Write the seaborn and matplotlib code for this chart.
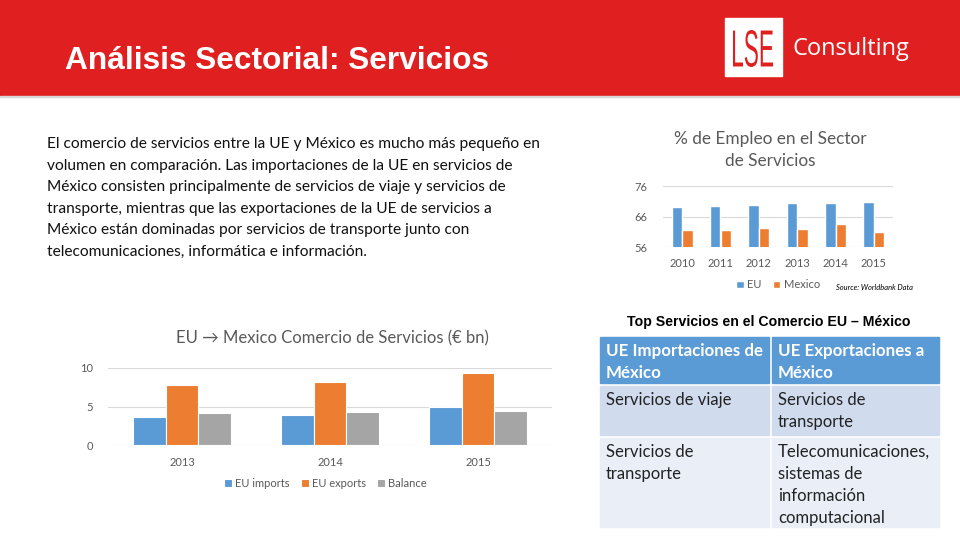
import numpy as np
import pandas as pd
import matplotlib
matplotlib.use("Agg")
import matplotlib.pyplot as plt
from matplotlib.patches import Rectangle, PathPatch
from matplotlib.textpath import TextPath
from matplotlib.font_manager import FontProperties
from matplotlib.transforms import Affine2D
import seaborn as sns

# data
emp_years = ["2010", "2011", "2012", "2013", "2014", "2015"]
emp_eu = [69.2, 69.5, 69.8, 70.5, 70.5, 70.8]
emp_mexico = [61.7, 61.7, 62.3, 61.9, 63.6, 60.9]

trade_years = ["2013", "2014", "2015"]
trade_imports = [3.7, 3.95, 5.0]
trade_exports = [7.8, 8.2, 9.4]
trade_balance = [4.1, 4.25, 4.4]

paragraph_lines = [
    "El comercio de servicios entre la UE y México es mucho más pequeño en",
    "volumen en comparación. Las importaciones de la UE en servicios de",
    "México consisten principalmente de servicios de viaje y servicios de",
    "transporte, mientras que las exportaciones de la UE de servicios a",
    "México están dominadas por servicios de transporte junto con",
    "telecomunicaciones, informática e información.",
]

table_header = [["UE Importaciones de", "México"], ["UE Exportaciones a", "México"]]
table_rows = [
    [["Servicios de viaje"], ["Servicios de", "transporte"]],
    [["Servicios de", "transporte"],
     ["Telecomunicaciones,", "sistemas de", "información", "computacional"]],
]

BLUE = "#5b9bd5"
ORANGE = "#ed7d31"
GREY = "#a5a5a5"
RED = "#e02020"
TXT = "#595959"

sns.set_theme(style="white")
plt.rcParams["font.family"] = ["Lato", "DejaVu Sans"]

fig = plt.figure(figsize=(9.6, 5.4), dpi=100)


def px_axes(x0, y0, x1, y1):
    return fig.add_axes([x0 / 960, 1 - y1 / 540, (x1 - x0) / 960, (y1 - y0) / 540])


# background layer in pixel coordinates
bg = fig.add_axes([0, 0, 1, 1])
bg.set_xlim(0, 960)
bg.set_ylim(540, 0)
bg.axis("off")

bg.add_patch(Rectangle((0, 0), 960, 96, color=RED, zorder=1))
bg.add_patch(Rectangle((0, 96), 960, 1.2, color="#d8d8d8", zorder=1))
bg.text(65, 61, "Análisis Sectorial: Servicios", color="white", fontsize=22.8,
        fontweight="bold", family="Liberation Sans", va="center", ha="left", zorder=3)

# logo
bg.add_patch(Rectangle((725, 18), 57, 58, color="white", zorder=2))
tp = TextPath((0, 0), "LSE", size=10, prop=FontProperties(family="Liberation Sans"))
ext = tp.get_extents()
sx = 40 / ext.width
sy = 37 / ext.height
tr = Affine2D().translate(-ext.x0, -ext.y0).scale(sx, -sy).translate(733, 67) + bg.transData
bg.add_patch(PathPatch(tp, color=RED, lw=0, transform=tr, zorder=3))
bg.text(793, 49, "Consulting", color="white", fontsize=17, family="Open Sans",
        ha="left", va="center", zorder=3)

# paragraph
for i, line in enumerate(paragraph_lines):
    bg.text(47, 144 + i * 21.6, line, fontsize=11.2, color="#111111",
            ha="left", va="center")

# table
bg.text(769, 322, "Top Servicios en el Comercio EU – México", fontsize=10.2,
        fontweight="bold", family="Liberation Sans", ha="center", va="center", color="black")
col_x = [(600, 769), (772, 939)]
row_y = [(337, 383), (386, 435), (438, 527)]
row_colors = ["#5b9bd5", "#d0dbee", "#e9eef7"]
cells = [table_header] + table_rows
for r, (y0, y1) in enumerate(row_y):
    for c, (x0, x1) in enumerate(col_x):
        bg.add_patch(Rectangle((x0, y0), x1 - x0, y1 - y0, color=row_colors[r], zorder=1))
        for k, line in enumerate(cells[r][c]):
            bg.text(x0 + 6, y0 + 14 + k * 22, line, fontsize=12.2 if r == 0 else 12,
                    color="white" if r == 0 else "#222222",
                    fontweight="bold" if r == 0 else "normal",
                    ha="left", va="center", zorder=3)

# employment chart
emp = pd.DataFrame({
    "year": emp_years * 2,
    "value": emp_eu + emp_mexico,
    "series": ["EU"] * len(emp_years) + ["Mexico"] * len(emp_years),
})
ax1 = px_axes(663, 186, 893, 247)
sns.barplot(data=emp, x="year", y="value", hue="series", palette=[BLUE, ORANGE],
            width=0.55, saturation=1, ax=ax1)
ax1.set_ylim(56, 76)
ax1.set_yticks([56, 66, 76])
ax1.yaxis.grid(True, color="#d9d9d9", lw=0.8)
ax1.set_axisbelow(True)
sns.despine(ax=ax1, left=True, bottom=True)
ax1.set_xlabel("")
ax1.set_ylabel("")
ax1.tick_params(axis="both", length=0, labelsize=8, colors=TXT, pad=8)
ax1.tick_params(axis="y", pad=11)
h, l = ax1.get_legend_handles_labels()
ax1.legend(h, l, loc="center", bbox_to_anchor=(0.5, -0.62), ncol=2, frameon=False,
           fontsize=8, handlelength=0.7, handleheight=0.7, handletextpad=0.3,
           columnspacing=1.0, labelcolor=TXT)
bg.text(770, 139, "% de Empleo en el Sector", fontsize=12.4, color=TXT,
        ha="center", va="center")
bg.text(770, 161, "de Servicios", fontsize=12.4, color=TXT,
        ha="center", va="center")
bg.text(836, 288, "Source: Worldbank Data", fontsize=5.4, style="italic", color="black",
        ha="left", va="center")

# trade chart
trade = pd.DataFrame({
    "year": trade_years * 3,
    "value": trade_imports + trade_exports + trade_balance,
    "series": ["EU imports"] * 3 + ["EU exports"] * 3 + ["Balance"] * 3,
})
ax2 = px_axes(108, 368, 552, 445)
sns.barplot(data=trade, x="year", y="value", hue="series", palette=[BLUE, ORANGE, GREY],
            width=0.66, saturation=1, ax=ax2)
for p in ax2.patches:
    p.set_edgecolor("white")
    p.set_linewidth(0.8)
ax2.set_ylim(0, 10)
ax2.set_yticks([0, 5, 10])
ax2.yaxis.grid(True, color="#d9d9d9", lw=0.8)
ax2.set_axisbelow(True)
sns.despine(ax=ax2, left=True, bottom=True)
ax2.set_xlabel("")
ax2.set_ylabel("")
ax2.tick_params(axis="both", length=0, labelsize=8, colors=TXT, pad=9)
ax2.tick_params(axis="y", pad=11)
h, l = ax2.get_legend_handles_labels()
ax2.legend(h, l, loc="center", bbox_to_anchor=(0.49, -0.5), ncol=3, frameon=False,
           fontsize=8, handlelength=0.7, handleheight=0.7, handletextpad=0.3,
           columnspacing=1.0, labelcolor=TXT)
bg.text(332, 338, "EU → Mexico Comercio de Servicios (€ bn)", fontsize=12, color=TXT,
        ha="center", va="center")

fig.savefig("out.png", dpi=100)
